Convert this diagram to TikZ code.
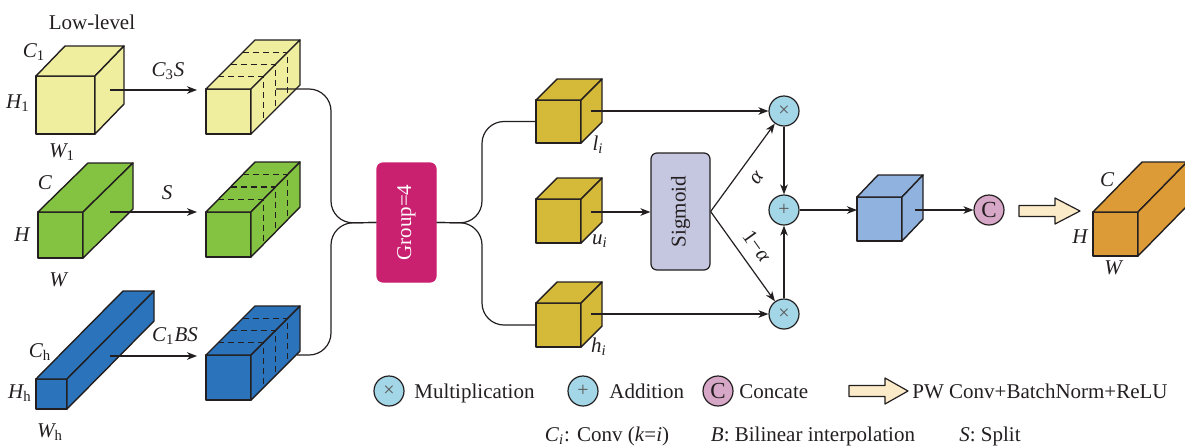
\documentclass[tikz,border=0pt]{standalone}
\usepackage{fontspec}
\setmainfont{Liberation Serif}
\usetikzlibrary{arrows.meta,calc}
\definecolor{lc}{HTML}{231F20}
\definecolor{cyel}{HTML}{EFEE9E}
\definecolor{cgrn}{HTML}{84C241}
\definecolor{cblu}{HTML}{2B74BB}
\definecolor{cmag}{HTML}{C9216F}
\definecolor{cgold}{HTML}{D5BA3A}
\definecolor{csig}{HTML}{C5C6DF}
\definecolor{cop}{HTML}{A3D6E7}
\definecolor{clblu}{HTML}{8FB2DE}
\definecolor{ccat}{HTML}{D6A7C6}
\definecolor{cfat}{HTML}{FCEBC9}
\definecolor{corg}{HTML}{DD9B37}
\newcommand\cuboid[8]{%
  \node[face, fill=#2, minimum width={(#5-#3)*0.5pt}, minimum height={(#6-#4)*0.5pt}] (#1) at ({(#3+#5)/2},{(#4+#6)/2}) {};
  \draw[edge, fill=#2] (#1.north west) -- ++(#7,#8) -- ++({#5-#3},0) -- (#1.north east) -- cycle;
  \draw[edge, fill=#2] (#1.north east) -- ++(#7,#8) -- ++(0,{#6-#4}) -- (#1.south east) -- cycle;
}
\newcommand\slices[3]{%
  \foreach \t in {0.25,0.5,0.75}{%
    \draw[edge, dash pattern=on 3pt off 2pt] ($(#1.north west)+({\t*(#2)},{\t*(#3)})$) -- ($(#1.north east)+({\t*(#2)},{\t*(#3)})$) -- ($(#1.south east)+({\t*(#2)},{\t*(#3)})$);
  }%
}
\newcommand\fatarrow[4]{% x1, xhead, xtip, y
  \draw[edge, line width=0.6pt, fill=cfat] (#1,{#4-5.5}) -- (#2,{#4-5.5}) -- (#2,{#4-13}) -- (#3,#4) -- (#2,{#4+13}) -- (#2,{#4+5.5}) -- (#1,{#4+5.5}) -- cycle;
}
\begin{document}
\begin{tikzpicture}[x=0.5pt,y=-0.5pt,
  edge/.style={draw=lc, line width=0.7pt, line join=round},
  face/.style={edge, rectangle, inner sep=0pt, outer sep=0pt},
  conn/.style={draw=lc, line width=0.6pt},
  arr/.style={conn, -{Stealth[length=5pt,width=3.8pt,inset=1.5pt]}},
  op/.style={circle, draw=lc, line width=0.6pt, fill=cop, minimum size=15pt, inner sep=0pt, font=\fontsize{10}{10}\selectfont, text=lc!75},
  catop/.style={op, fill=ccat, font=\fontsize{11.5}{11.5}\selectfont, text=lc},
  txt/.style={font=\fontsize{10.5}{12}\selectfont, text=lc, inner sep=0pt},
  lbl/.style={txt, font=\fontsize{10.5}{12}\selectfont\itshape},
  boxn/.style={rectangle, rounded corners=3pt, draw=lc, line width=0.6pt, inner sep=0pt}
]
\useasboundingbox (0,0) rectangle (1185,446);
\clip (0,0) rectangle (1185,446);

% ---------- left inputs ----------
\node[txt] (lowlevel) at (92,22) {Low-level};
\cuboid{c1}{cyel}{36}{76}{95}{134}{29}{-30}
\node[lbl] (c1C) at (34,52) {C\textsubscript{\upshape 1}};
\node[lbl] (c1H) at (18,103) {H\textsubscript{\upshape 1}};
\node[lbl] (c1W) at (62,152) {W\textsubscript{\upshape 1}};

\cuboid{c2}{cgrn}{38}{212}{83}{258}{50}{-49}
\node[lbl] (c2C) at (45,183) {C};
\node[lbl] (c2H) at (22,235) {H};
\node[lbl] (c2W) at (58,280) {W};

\cuboid{c3}{cblu}{36}{379}{67}{409}{87}{-88}
\node[lbl] (c3C) at (40,352) {C\textsubscript{\upshape h}};
\node[lbl] (c3H) at (20,393) {H\textsubscript{\upshape h}};
\node[lbl] (c3W) at (50,432) {W\textsubscript{\upshape h}};

% ---------- split cubes ----------
\cuboid{s1}{cyel}{206}{89}{251}{134}{49}{-49}
\slices{s1}{49}{-49}
\cuboid{s2}{cgrn}{206}{212}{251}{257}{49}{-50}
\slices{s2}{49}{-50}
\cuboid{s3}{cblu}{206}{355}{251}{400}{49}{-49}
\slices{s3}{49}{-49}

\coordinate (c1o) at (110,90);
\coordinate (c2o) at (110,212);
\coordinate (c3o) at (110,356);
\draw[arr, shorten >=4.5pt] (c1o) -- (c1o -| s1.west);
\draw[arr, shorten >=4.5pt] (c2o) -- (c2o -| s2.west);
\draw[arr, shorten >=4.5pt] (c3o) -- (c3o -| s3.west);
\node[lbl] (op1) at (168,71) {C\textsubscript{\upshape 3}S};
\node[lbl] (op2) at (167,193) {S};
\node[lbl] (op3) at (175,336) {C\textsubscript{\upshape 1}BS};

% ---------- group ----------
\node[boxn, fill=cmag, draw=cmag, minimum width=29.5pt, minimum height=59.5pt] (grp) at (406.5,222.5) {};
\node[txt, text=white, rotate=90] (grptxt) at (grp.center) {Group=4};
\coordinate (s1o) at (276,89);
\coordinate (s3o) at (297,355);
\coordinate (jl) at (331,223);
\draw[conn, rounded corners=11pt] (s1o) -- (s1o -| jl) -- (jl) -- (grp.west);
\draw[conn, rounded corners=11pt] (s3o) -- (s3o -| jl) -- (jl) -- (grp.west);

% ---------- l, u, h ----------
\cuboid{l}{cgold}{536}{100}{581}{143}{21}{-21}
\cuboid{u}{cgold}{536}{199}{581}{243}{21}{-21}
\cuboid{h}{cgold}{536}{303}{581}{347}{21}{-21}
\node[lbl] (ltx) at (598,145) {l\textsubscript{i}};
\node[lbl] (utx) at (600,241) {u\textsubscript{i}};
\node[lbl] (htx) at (599,347) {h\textsubscript{i}};
\coordinate (jr) at (482,223);
\draw[conn, rounded corners=11pt] (grp.east) -- (jr) -- (jr |- l.west) -- (l.west);
\draw[conn, rounded corners=11pt] (grp.east) -- (jr) -- (jr |- h.west) -- (h.west);

% ---------- sigmoid and operators ----------
\node[boxn, fill=csig, minimum width=29.5pt, minimum height=58.5pt] (sig) at (680.5,211.5) {};
\node[txt, rotate=90] (sigtxt) at (sig.center) {Sigmoid};
\node[op] (m1) at (784,111) {×};
\node[op] (pl) at (784,210) {+};
\node[op] (m2) at (784,314) {×};
\coordinate (lo) at (591,111);
\coordinate (uo) at (591,212);
\coordinate (ho) at (591,314);
\draw[arr] (lo) -- (m1);
\draw[arr] (uo) -- (uo -| sig.west);
\draw[arr] (ho) -- (m2);
\draw[arr] (sig.east) -- (m1) node[lbl, pos=0.5, sloped, below=6pt] {α};
\draw[arr] (sig.east) -- (m2) node[txt, pos=0.5, sloped, above=5pt] {1−\textit{α}};
\draw[arr] (m1) -- (pl);
\draw[arr] (m2) -- (pl);

% ---------- output ----------
\cuboid{bc}{clblu}{857}{197}{902}{241}{21}{-22}
\draw[arr] (pl) -- (pl -| bc.west);
\node[catop] (cat) at (989,210) {C};
\coordinate (bco) at (915,210);
\draw[arr] (bco) -- (cat);
\fatarrow{1019}{1055}{1080}{211}
\cuboid{oc}{corg}{1093}{212}{1138}{256}{49}{-50}
\node[lbl] (ocC) at (1107,180) {C};
\node[lbl] (ocH) at (1080,237) {H};
\node[lbl] (ocW) at (1113,268) {W};

% ---------- legend ----------
\node[op] (lg1) at (389,391) {×};
\node[txt, anchor=base west] (lg1t) at (414,398) {Multiplication};
\node[op] (lg2) at (583,391) {+};
\node[txt, anchor=base west] (lg2t) at (609,398) {Addition};
\node[catop] (lg3) at (718,391) {C};
\node[txt, anchor=base west] (lg3t) at (739,398) {Concate};
\fatarrow{849}{885}{908}{391}
\node[txt, anchor=base west] (lg4t) at (912,398) {PW Conv+BatchNorm+ReLU};
\node[txt, anchor=base] (n1) at (607,441) {\textit{C}\textsubscript{\itshape i}: Conv (\textit{k}=\textit{i})};
\node[txt, anchor=base] (n2) at (813,441) {\textit{B}: Bilinear interpolation};
\node[txt, anchor=base] (n3) at (990,441) {\textit{S}: Split};
\end{tikzpicture}
\end{document}
